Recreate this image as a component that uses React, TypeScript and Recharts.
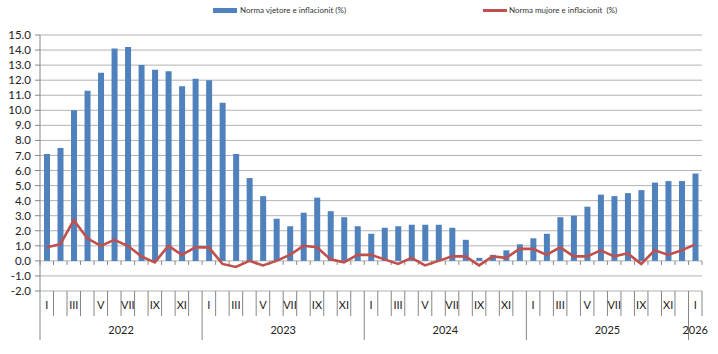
import React from "react";
import { ComposedChart, Bar, Line, XAxis, YAxis, CartesianGrid, ReferenceLine } from "recharts";

const romanMonths = ["I", "II", "III", "IV", "V", "VI", "VII", "VIII", "IX", "X", "XI", "XII"];
const years = ["2022", "2023", "2024", "2025", "2026"];

// norma vjetore (bars)
const annualRate = [
  7.1, 7.5, 10.0, 11.3, 12.5, 14.1, 14.2, 13.0, 12.7, 12.6, 11.6, 12.1,
  12.0, 10.5, 7.1, 5.5, 4.3, 2.8, 2.3, 3.2, 4.2, 3.3, 2.9, 2.3,
  1.8, 2.2, 2.3, 2.4, 2.4, 2.4, 2.2, 1.4, 0.2, 0.4, 0.7, 1.1,
  1.5, 1.8, 2.9, 3.0, 3.6, 4.4, 4.3, 4.5, 4.7, 5.2, 5.3, 5.3,
  5.8,
];

// norma mujore (line)
const monthlyRate = [
  0.9, 1.1, 2.7, 1.5, 1.0, 1.4, 1.0, 0.3, -0.1, 1.0, 0.4, 0.9,
  0.9, -0.2, -0.4, 0.0, -0.3, 0.0, 0.4, 1.0, 0.9, 0.1, -0.1, 0.4,
  0.4, 0.1, -0.2, 0.2, -0.3, 0.0, 0.3, 0.3, -0.3, 0.3, 0.2, 0.8,
  0.8, 0.4, 0.9, 0.3, 0.3, 0.7, 0.3, 0.5, -0.2, 0.7, 0.4, 0.7,
  1.1,
];

const yTicks = [-2, -1, 0, 1, 2, 3, 4, 5, 6, 7, 8, 9, 10, 11, 12, 13, 14, 15];

const data = annualRate.map((v, i) => ({
  key: i,
  month: romanMonths[i % 12],
  monthIdx: i % 12,
  year: years[Math.floor(i / 12)],
  annual: v,
  monthly: monthlyRate[i],
}));

const W = 718;
const H = 354;
const LEFT = 40;
const RIGHT = 16;
const TOP = 35;
const XH = 63;
const BW = (W - LEFT - RIGHT) / data.length;
const FONT = "Lato, 'Liberation Sans', sans-serif";
const AXIS = "#868686";

const MonthTick = (props: any) => {
  const { x, y, index } = props;
  const d = data[index];
  if (!d) return null;
  const left = x - BW / 2;
  const firstOfYear = d.monthIdx === 0;
  const nInYear = data.filter((r) => r.year === d.year).length;
  const isLast = index === data.length - 1;
  return (
    <g>
      <line x1={left} x2={left} y1={y} y2={y + (firstOfYear ? 49 : 25)} stroke={AXIS} strokeWidth={1} />
      {isLast && <line x1={x + BW / 2} x2={x + BW / 2} y1={y} y2={y + 25} stroke={AXIS} strokeWidth={1} />}
      {d.monthIdx % 2 === 0 && (
        <text x={x} y={y + 18} textAnchor="middle" fontSize={11} fontFamily={FONT} fill="#222">
          {d.month}
        </text>
      )}
      {firstOfYear && (
        <text x={left + (nInYear * BW) / 2} y={y + 43} textAnchor="middle" fontSize={11} fontFamily={FONT} fill="#222">
          {d.year}
        </text>
      )}
    </g>
  );
};

const ZeroTicks = (props: any) => {
  const { x1, x2, y1 } = props;
  const n = data.length;
  const step = (x2 - x1) / n;
  return (
    <g>
      {Array.from({ length: n + 1 }, (_, i) => (
        <line key={i} x1={x1 + i * step} x2={x1 + i * step} y1={y1} y2={y1 + 4} stroke={AXIS} strokeWidth={1} />
      ))}
    </g>
  );
};

const legendText: React.CSSProperties = { fontFamily: FONT, fontSize: 8, color: "#333", whiteSpace: "nowrap" };

export default function App() {
  return (
    <div style={{ position: "absolute", left: 0, top: 0, width: W, height: H, background: "#fff" }}>
      <div style={{ position: "absolute", left: 213, top: 5, display: "flex", alignItems: "center" }}>
        <span style={{ display: "inline-block", width: 24, height: 5, background: "#4f81bd", marginRight: 3 }} />
        <span style={legendText}>Norma vjetore e inflacionit (%)</span>
      </div>
      <div style={{ position: "absolute", left: 483, top: 5, display: "flex", alignItems: "center" }}>
        <span style={{ display: "inline-block", width: 24, height: 3, background: "#c0504d", marginRight: 2 }} />
        <span style={legendText}>Norma mujore e inflacionit&nbsp; (%)</span>
      </div>
      <ComposedChart width={W} height={H} data={data} margin={{ top: TOP, right: RIGHT, bottom: 0, left: 0 }} barCategoryGap={0}>
        <CartesianGrid vertical={false} stroke="#b3b3b3" />
        <XAxis
          dataKey="key"
          type="category"
          height={XH}
          interval={0}
          tickLine={false}
          axisLine={false}
          tickSize={0}
          tickMargin={0}
          tick={<MonthTick />}
        />
        <YAxis
          width={LEFT}
          domain={[-2, 15]}
          ticks={yTicks}
          interval={0}
          tickFormatter={(v: number) => v.toFixed(1)}
          tick={{ fontSize: 11.5, fontFamily: FONT, fill: "#222" }}
          tickSize={5}
          tickMargin={4}
          tickLine={{ stroke: AXIS }}
          axisLine={{ stroke: AXIS }}
        />
        <ReferenceLine y={0} stroke="#b3b3b3" shape={<ZeroTicks />} />
        <Bar dataKey="annual" fill="#4f81bd" barSize={6} isAnimationActive={false} />
        <Line dataKey="monthly" type="linear" stroke="#c0504d" strokeWidth={2.6} dot={false} isAnimationActive={false} />
      </ComposedChart>
    </div>
  );
}
